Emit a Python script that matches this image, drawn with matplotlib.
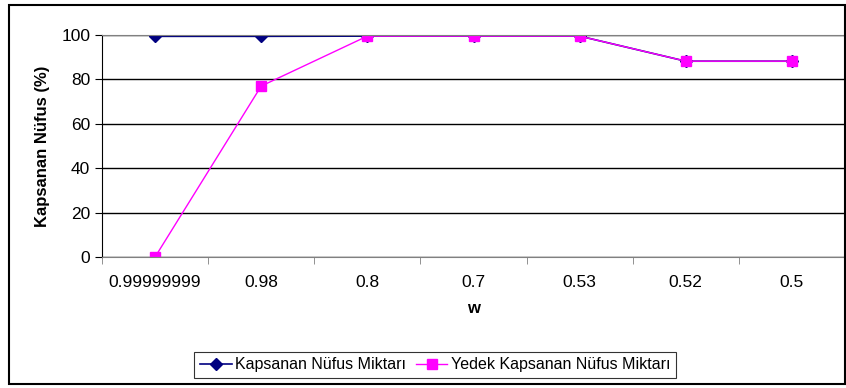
import matplotlib.pyplot as plt
from matplotlib.patches import Rectangle

plt.rcParams['font.family'] = ['Liberation Sans', 'DejaVu Sans']

w_labels = ['0.99999999', '0.98', '0.8', '0.7', '0.53', '0.52', '0.5']
kapsanan = [99.4, 99.4, 99.5, 99.5, 99.5, 88.2, 88.2]
yedek = [0, 77, 99.5, 99.5, 99.5, 88.2, 88.2]

fig = plt.figure(figsize=(8.46, 3.88), dpi=100)
ax = fig.add_axes([102 / 846, 131 / 388, 743 / 846, 222 / 388])

x = range(len(w_labels))
ax.plot(x, kapsanan, color='#000080', marker='D', markersize=6, lw=1.2,
        label='Kapsanan Nüfus Miktarı')
ax.plot(x, yedek, color='#FF00FF', marker='s', markersize=7, lw=1.0,
        label='Yedek Kapsanan Nüfus Miktarı')

ax.set_xlim(-0.5, len(w_labels) - 0.5)
ax.set_ylim(0, 100)
ax.set_yticks(range(0, 101, 20))
ax.set_xticks(x)
ax.set_xticklabels(w_labels)
ax.set_xticks([i + 0.5 for i in range(-1, len(w_labels))], minor=True)
ax.tick_params(axis='x', which='major', length=0, pad=13, labelsize=12.5)
ax.tick_params(axis='x', which='minor', length=5, direction='out', color='#808080')
ax.tick_params(axis='y', length=5, direction='out', labelsize=12.5)
ax.yaxis.grid(True, color='black', lw=1)
ax.set_axisbelow(True)

for s in ['top', 'right']:
    ax.spines[s].set_color('#808080')
ax.spines['bottom'].set_color('#808080')
ax.spines['left'].set_color('black')

ax.set_ylabel('Kapsanan Nüfus (%)', fontsize=12, fontweight='bold', labelpad=8)
ax.set_xlabel('w', fontsize=12, fontweight='bold', labelpad=8)

leg = fig.legend(loc='center', bbox_to_anchor=(435 / 846, 1 - 365 / 388), ncol=2,
                 fontsize=11.5, frameon=True, fancybox=False, edgecolor='black',
                 handlelength=2.0, handletextpad=0.2, columnspacing=0.6,
                 borderpad=0.35)
leg.get_frame().set_linewidth(0.8)

fig.patches.append(Rectangle((9 / 846, 4 / 388), 836 / 846, 379 / 388,
                             transform=fig.transFigure, fill=False,
                             edgecolor='black', lw=1.5))

fig.savefig('out.png', dpi=100)
